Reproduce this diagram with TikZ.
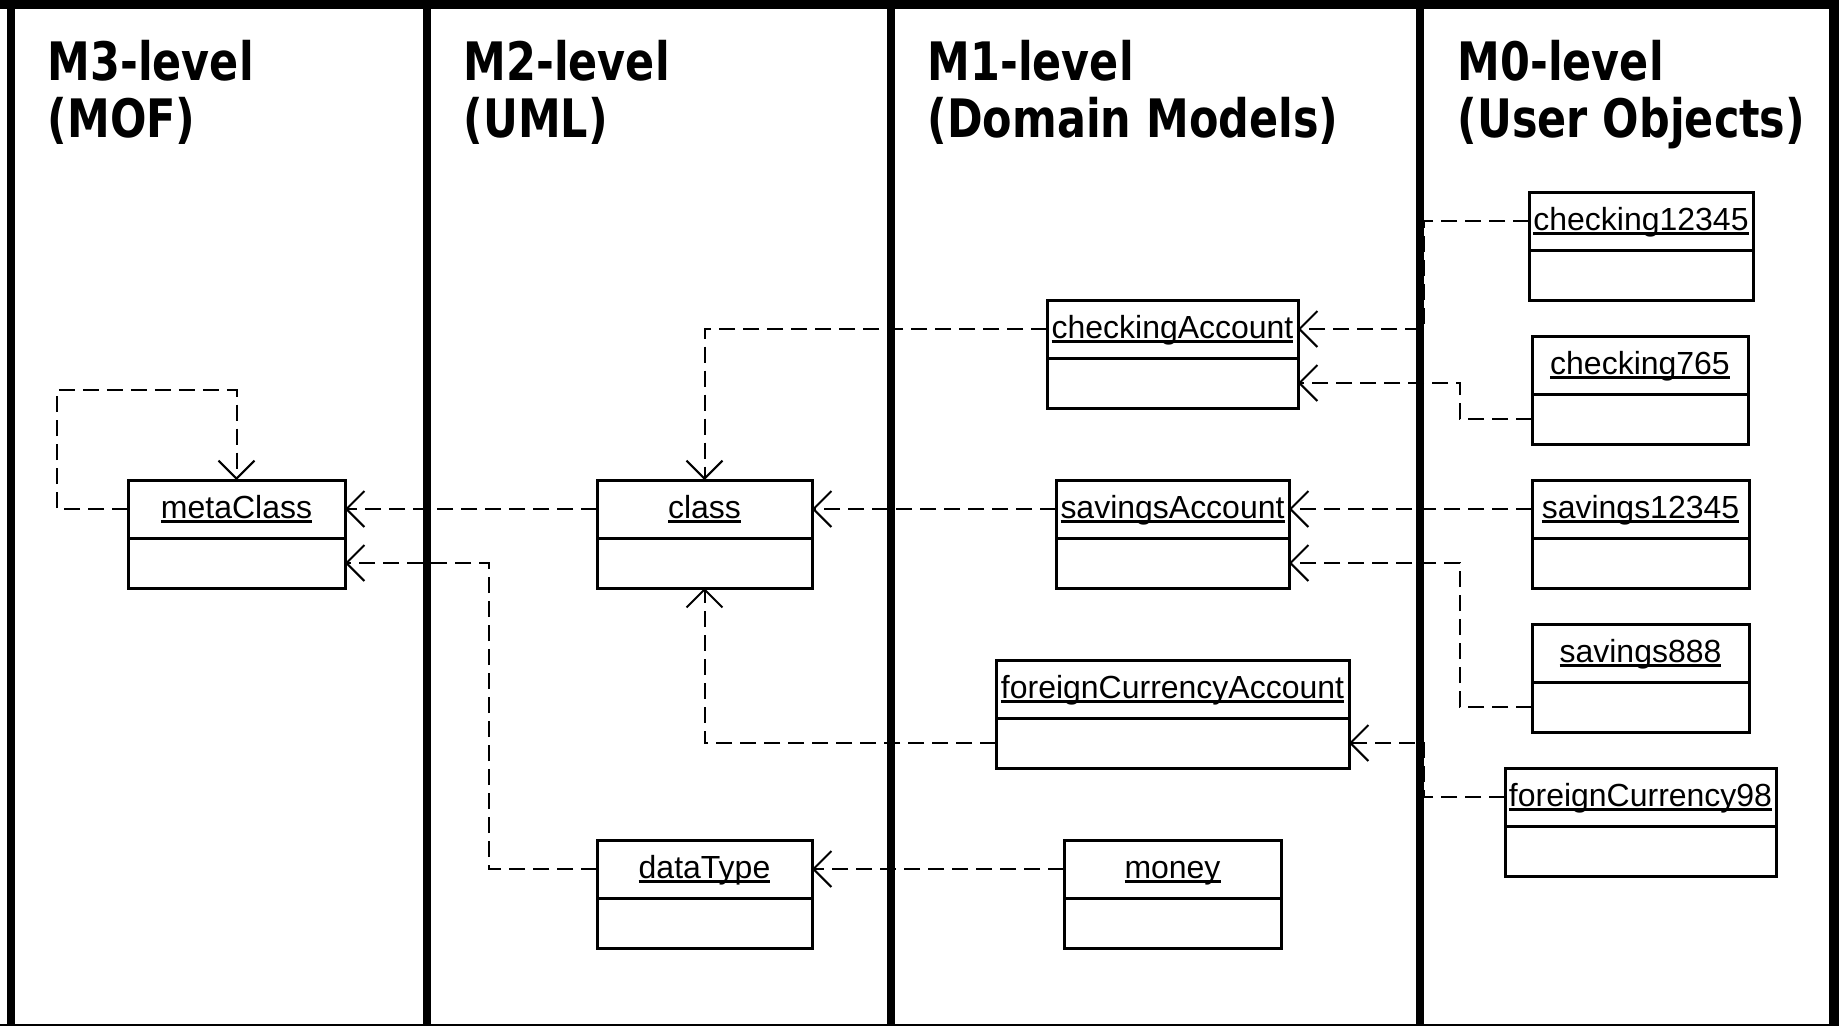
\documentclass[tikz,border=0pt]{standalone}
\usepackage{fontspec}
\setmainfont{Liberation Sans}
\newfontfamily\ttlfont{DejaVu Sans}[FakeStretch=0.81]
\usetikzlibrary{arrows.meta}
\newcommand\ulabel[1]{\setbox0\hbox{#1}\rlap{\rule[-1.3pt]{\wd0}{0.6pt}}\box0}
\begin{document}
\begin{tikzpicture}[x=0.1mm,y=-0.1mm,
  title/.style={font={\ttlfont\bfseries\fontsize{15.08pt}{17pt}\selectfont}, anchor=base west, inner sep=0},
  toprow/.style={draw, line width=0.3mm, inner sep=0, outer sep=0, minimum height=5.8mm,
    text height=2.4mm, text depth=0.6mm, font={\fontsize{9.1pt}{11pt}\selectfont}},
  botrow/.style={draw, line width=0.3mm, inner sep=0, outer sep=0, minimum height=5.0mm, anchor=north},
  depline/.style={line width=0.2mm, dash pattern=on 1.6mm off 0.8mm,
    -{Straight Barb[length=1.8mm,width=3.6mm]}},
  frameline/.style={line width=0.8mm}
]
\useasboundingbox (0,0) rectangle (1839,1026);
% frame and swimlane dividers
\draw[line width=0.9mm] (0,4) -- (1839,4);
\draw[frameline] (11,0) -- (11,1026);
\draw[line width=1mm] (1834,0) -- (1834,1026);
\draw[line width=0.2mm] (0,1025) -- (1839,1025);
\draw[frameline] (427,0) -- (427,1026);
\draw[frameline] (891,0) -- (891,1026);
\draw[frameline] (1420,0) -- (1420,1026);
% titles
\node[title] (t3a) at (47,80) {M3-level};
\node[title] (t3b) at (47,137) {(MOF)};
\node[title] (t2a) at (463,80) {M2-level};
\node[title] (t2b) at (463,137) {(UML)};
\node[title] (t1a) at (927,80) {M1-level};
\node[title] (t1b) at (927,137) {(Domain Models)};
\node[title] (t0a) at (1457,80) {M0-level};
\node[title] (t0b) at (1457,137) {(User Objects)};
% boxes
\node[toprow, minimum width=21.7mm] (mc) at (236.5,509) {\ulabel{metaClass}};
\node[botrow, minimum width=21.7mm] (mcB) at (mc.south) {};
\node[toprow, minimum width=21.5mm] (cl) at (704.5,509) {\ulabel{class}};
\node[botrow, minimum width=21.5mm] (clB) at (cl.south) {};
\node[toprow, minimum width=21.5mm] (dt) at (704.5,869) {\ulabel{dataType}};
\node[botrow, minimum width=21.5mm] (dtB) at (dt.south) {};
\node[toprow, minimum width=25.1mm] (ca) at (1172.5,329) {\ulabel{checkingAccount}};
\node[botrow, minimum width=25.1mm] (caB) at (ca.south) {};
\node[toprow, minimum width=23.3mm] (sa) at (1172.5,509) {\ulabel{savingsAccount}};
\node[botrow, minimum width=23.3mm] (saB) at (sa.south) {};
\node[toprow, minimum width=35.3mm] (fca) at (1172.5,689) {\ulabel{foreignCurrencyAccount}};
\node[botrow, minimum width=35.3mm] (fcaB) at (fca.south) {};
\node[toprow, minimum width=21.7mm] (mo) at (1172.5,869) {\ulabel{money}};
\node[botrow, minimum width=21.7mm] (moB) at (mo.south) {};
\node[toprow, minimum width=22.4mm] (c1) at (1641,221) {\ulabel{checking12345}};
\node[botrow, minimum width=22.4mm] (c1B) at (c1.south) {};
\node[toprow, minimum width=21.6mm] (c7) at (1640,365) {\ulabel{checking765}};
\node[botrow, minimum width=21.6mm] (c7B) at (c7.south) {};
\node[toprow, minimum width=21.7mm] (s1) at (1640.5,509) {\ulabel{savings12345}};
\node[botrow, minimum width=21.7mm] (s1B) at (s1.south) {};
\node[toprow, minimum width=21.7mm] (s8) at (1640.5,653) {\ulabel{savings888}};
\node[botrow, minimum width=21.7mm] (s8B) at (s8.south) {};
\node[toprow, minimum width=27.1mm] (f9) at (1640.5,797) {\ulabel{foreignCurrency98}};
\node[botrow, minimum width=27.1mm] (f9B) at (f9.south) {};
% routing coordinates
\coordinate (loop) at (57,390);
\coordinate (xa) at (489,0);
\coordinate (xb) at (1424,0);
\coordinate (xc) at (1460,0);
% connectors
\draw[depline] (mc.west) -| (loop) -| (mc.north);
\draw[depline] (cl.west) -- (mc.east);
\draw[depline] (dt.west) -| (xa |- mcB.east) -- (mcB.east);
\draw[depline] (ca.west) -| (cl.north);
\draw[depline] (sa.west) -- (cl.east);
\draw[depline] (fcaB.west) -| (clB.south);
\draw[depline] (mo.west) -- (dt.east);
\draw[depline] (c1.west) -| (xb |- ca.east) -- (ca.east);
\draw[depline] (c7B.west) -| (xc |- caB.east) -- (caB.east);
\draw[depline] (s1.west) -- (sa.east);
\draw[depline] (s8B.west) -| (xc |- saB.east) -- (saB.east);
\draw[depline] (f9.west) -| (xb |- fcaB.east) -- (fcaB.east);
\end{tikzpicture}
\end{document}
